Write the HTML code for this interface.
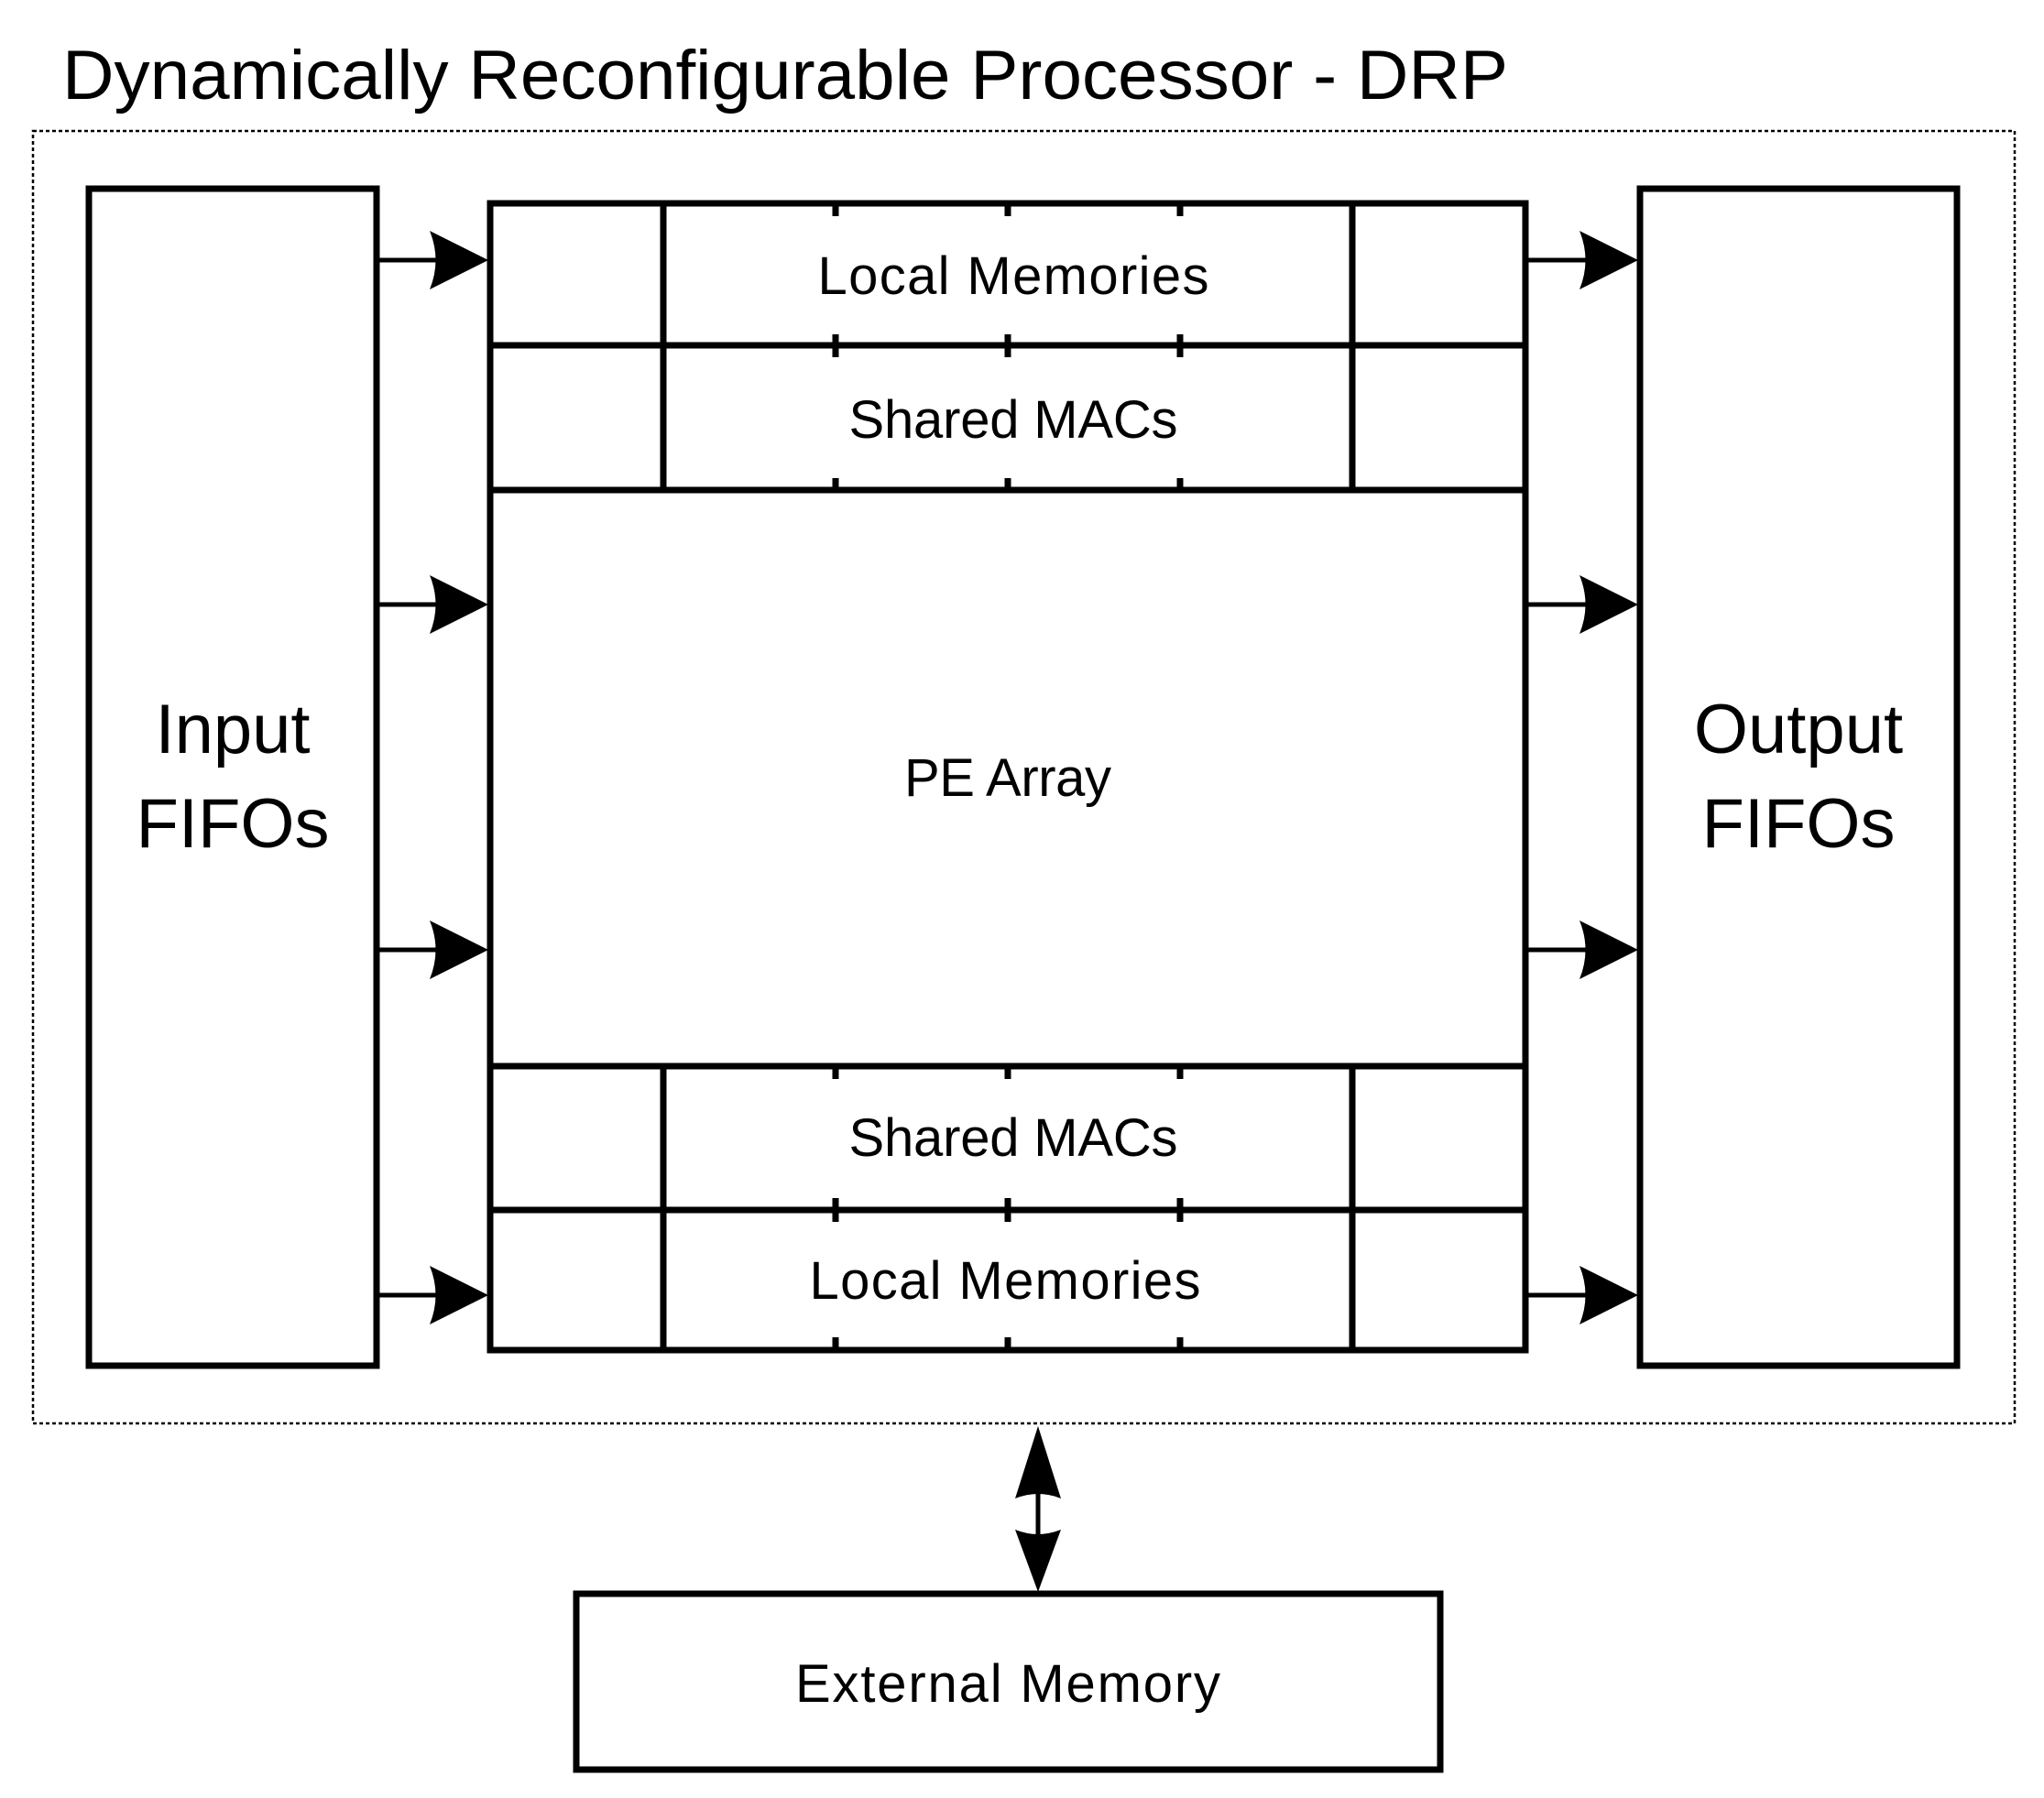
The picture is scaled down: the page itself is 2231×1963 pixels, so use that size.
<!DOCTYPE html>
<html><head><meta charset="utf-8"><style>html,body{margin:0;padding:0;background:#fff}svg{display:block}</style></head>
<body>
<svg width="2231" height="1963" viewBox="0 0 2231 1963" xmlns="http://www.w3.org/2000/svg" font-family="Liberation Sans, sans-serif">
<rect width="2231" height="1963" fill="#fff"/>
<text x="68" y="108" font-size="76" textLength="1578" lengthAdjust="spacingAndGlyphs">Dynamically Reconfigurable Processor - DRP</text>
<rect x="36" y="143" width="2163" height="1411" fill="none" stroke="#000" stroke-width="2.5" stroke-dasharray="4,3"/>
<g fill="none" stroke="#000" stroke-width="7">
<rect x="97" y="206" width="314" height="1285"/>
<rect x="1790" y="206" width="346" height="1285"/>
<rect x="535" y="222" width="1130" height="1252"/>
<line x1="535" y1="377" x2="1665" y2="377"/>
<line x1="535" y1="535" x2="1665" y2="535"/>
<line x1="535" y1="1164" x2="1665" y2="1164"/>
<line x1="535" y1="1321" x2="1665" y2="1321"/>
<line x1="724" y1="222" x2="724" y2="535"/>
<line x1="1476" y1="222" x2="1476" y2="535"/>
<line x1="724" y1="1164" x2="724" y2="1474"/>
<line x1="1476" y1="1164" x2="1476" y2="1474"/>
<rect x="629" y="1740" width="943" height="192"/>
</g>
<g stroke="#000" stroke-width="7">
<line x1="912" y1="222" x2="912" y2="236"/><line x1="1100" y1="222" x2="1100" y2="236"/><line x1="1288" y1="222" x2="1288" y2="236"/>
<line x1="912" y1="365" x2="912" y2="390"/><line x1="1100" y1="365" x2="1100" y2="390"/><line x1="1288" y1="365" x2="1288" y2="390"/>
<line x1="912" y1="522" x2="912" y2="535"/><line x1="1100" y1="522" x2="1100" y2="535"/><line x1="1288" y1="522" x2="1288" y2="535"/>
<line x1="912" y1="1164" x2="912" y2="1178"/><line x1="1100" y1="1164" x2="1100" y2="1178"/><line x1="1288" y1="1164" x2="1288" y2="1178"/>
<line x1="912" y1="1308" x2="912" y2="1334"/><line x1="1100" y1="1308" x2="1100" y2="1334"/><line x1="1288" y1="1308" x2="1288" y2="1334"/>
<line x1="912" y1="1460" x2="912" y2="1474"/><line x1="1100" y1="1460" x2="1100" y2="1474"/><line x1="1288" y1="1460" x2="1288" y2="1474"/>
</g>
<g stroke="#000" stroke-width="5">
<line x1="411" y1="284" x2="480" y2="284"/><line x1="411" y1="660" x2="480" y2="660"/><line x1="411" y1="1037" x2="480" y2="1037"/><line x1="411" y1="1414" x2="480" y2="1414"/>
<line x1="1665" y1="284" x2="1735" y2="284"/><line x1="1665" y1="660" x2="1735" y2="660"/><line x1="1665" y1="1037" x2="1735" y2="1037"/><line x1="1665" y1="1414" x2="1735" y2="1414"/>
<line x1="1133" y1="1610" x2="1133" y2="1690"/>
</g>
<g fill="#000">
<path d="M469,252 L533,284 L469,316 Q482,284 469,252Z"/>
<path d="M469,628 L533,660 L469,692 Q482,660 469,628Z"/>
<path d="M469,1005 L533,1037 L469,1069 Q482,1037 469,1005Z"/>
<path d="M469,1382 L533,1414 L469,1446 Q482,1414 469,1382Z"/>
<path d="M1724,252 L1788,284 L1724,316 Q1737,284 1724,252Z"/>
<path d="M1724,628 L1788,660 L1724,692 Q1737,660 1724,628Z"/>
<path d="M1724,1005 L1788,1037 L1724,1069 Q1737,1037 1724,1005Z"/>
<path d="M1724,1382 L1788,1414 L1724,1446 Q1737,1414 1724,1382Z"/>
<path d="M1133,1557 L1158,1636 Q1133,1626 1108,1636Z"/>
<path d="M1133,1738 L1158,1670 Q1133,1680 1108,1670Z"/>
</g>
<g font-size="58" text-anchor="middle" lengthAdjust="spacingAndGlyphs">
<text x="1106" y="321" textLength="427">Local Memories</text>
<text x="1106" y="478" textLength="359">Shared MACs</text>
<text x="1100" y="869" textLength="226">PE Array</text>
<text x="1106" y="1262" textLength="359">Shared MACs</text>
<text x="1097" y="1418" textLength="427">Local Memories</text>
<text x="1100" y="1858" textLength="464">External Memory</text>
</g>
<g font-size="76" text-anchor="middle">
<text x="254" y="822">Input</text>
<text x="254" y="925">FIFOs</text>
<text x="1963" y="822">Output</text>
<text x="1963" y="925">FIFOs</text>
</g>
</svg>
</body></html>
